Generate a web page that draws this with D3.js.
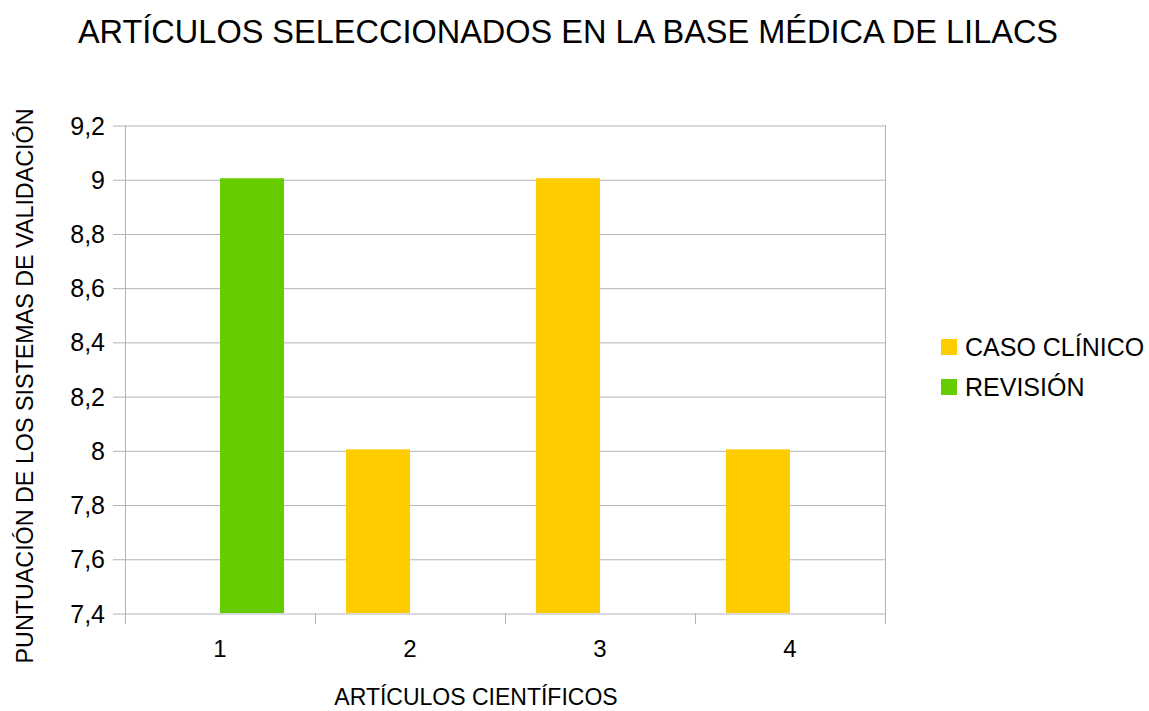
<!DOCTYPE html>
<html><head><meta charset="utf-8">
<script src="https://cdn.jsdelivr.net/npm/d3@7"></script>
<style>body{margin:0;background:#fff}svg{display:block}text{font-family:"Liberation Sans",Arial,sans-serif;fill:#000}</style>
</head><body>
<script>
const categories = ["1","2","3","4"];
const seriesNames = ["CASO CLÍNICO","REVISIÓN"];
const casoClinico = [null, 8, 9, 8];
const revision = [9, null, null, null];
const yTicks = [7.4,7.6,7.8,8,8.2,8.4,8.6,8.8,9,9.2];
const colors = ["#FFCC00","#66CC00"];
const title = "ARTÍCULOS SELECCIONADOS EN LA BASE MÉDICA DE LILACS";
const xTitle = "ARTÍCULOS CIENTÍFICOS";
const yTitle = "PUNTUACIÓN DE LOS SISTEMAS DE VALIDACIÓN";

const W = 1149, H = 711;
const m = {left:125, right:885, top:125, bottom:613};
const svg = d3.select("body").append("svg").attr("width",W).attr("height",H);

const x0 = d3.scaleBand().domain(categories).range([m.left, m.right]).padding(0);
const x1 = d3.scaleBand().domain(seriesNames).range([0, x0.bandwidth()]).paddingInner(0).paddingOuter(0.484);
const y = d3.scaleLinear().domain([7.4, 9.2]).range([m.bottom, m.top]);
const fmt = v => d3.format("~g")(v).replace(".", ",");
const grid = "#b3b3b3";

// gridlines + y ticks
const yAxis = d3.axisLeft(y).tickValues(yTicks).tickSize(m.right - m.left + 12).tickFormat(fmt).tickPadding(8);
const gy = svg.append("g").attr("transform", `translate(${m.right},0)`).call(yAxis);
gy.select(".domain").remove();
gy.selectAll("line").attr("stroke", grid).attr("transform","translate(0,0.5)");
gy.selectAll("text").attr("x", -(m.right - 105)).attr("dy","0.36em").style("font-size","25px").style("font-family","'Liberation Sans',Arial,sans-serif");

// right border
svg.append("line").attr("x1", m.right+0.5).attr("x2", m.right+0.5).attr("y1", m.top).attr("y2", m.bottom+11).attr("stroke", grid);
// left axis line
svg.append("line").attr("x1", m.left+0.5).attr("x2", m.left+0.5).attr("y1", m.top).attr("y2", m.bottom+11).attr("stroke", grid);

// x ticks at band boundaries
const bounds = categories.map(c => x0(c)).concat([m.right]);
svg.append("g").selectAll("line").data(bounds).join("line")
  .attr("x1", d => Math.round(d)+0.5).attr("x2", d => Math.round(d)+0.5)
  .attr("y1", m.bottom).attr("y2", m.bottom+11).attr("stroke", grid);

// x labels
svg.append("g").selectAll("text").data(categories).join("text")
  .attr("x", d => x0(d) + x0.bandwidth()/2).attr("y", 657)
  .attr("text-anchor","middle").style("font-size","24px").text(d => d);

// bars
const seriesData = [casoClinico, revision];
seriesData.forEach((vals, si) => {
  svg.append("g").selectAll("rect")
    .data(categories.map((c,i) => ({c, v: vals[i]})).filter(d => d.v != null))
    .join("rect")
    .attr("x", d => x0(d.c) + x1(seriesNames[si]))
    .attr("width", x1.bandwidth())
    .attr("y", d => y(d.v) - 1)
    .attr("height", d => y(7.4) - y(d.v) + 1)
    .attr("fill", colors[si]);
});

// title
svg.append("text").attr("x", 568).attr("y", 43).attr("text-anchor","middle")
  .style("font-size","32.5px").text(title);
// axis titles
svg.append("text").attr("x", 476).attr("y", 705).attr("text-anchor","middle")
  .style("font-size","23px").text(xTitle);
svg.append("text").attr("transform","translate(33,386) rotate(-90)").attr("text-anchor","middle")
  .style("font-size","23.3px").text(yTitle);

// legend
const lg = svg.append("g");
seriesNames.forEach((s,i) => {
  lg.append("rect").attr("x", 941).attr("y", 339 + i*40).attr("width", 16).attr("height", 16).attr("fill", colors[i]);
  lg.append("text").attr("x", 965).attr("y", 356 + i*40).style("font-size","25px").text(s);
});
</script>
</body></html>
